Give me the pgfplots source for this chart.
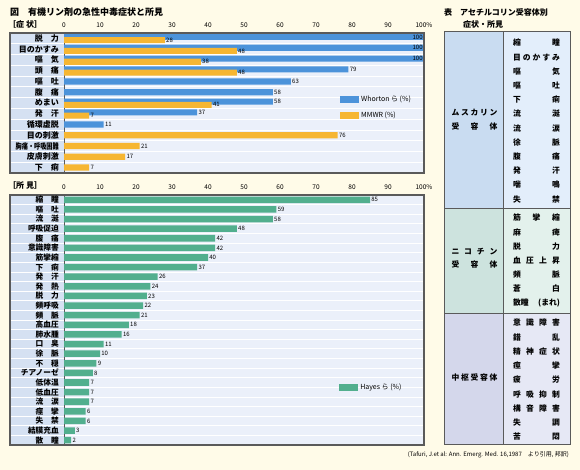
\documentclass[border=0pt]{standalone}
\usepackage{fontspec}
\usepackage{graphicx}
\usepackage{pgfplots}
\pgfplotsset{compat=1.18}
\setmainfont{Noto Sans CJK JP}
\definecolor{bgc}{HTML}{FFFBE8}
\definecolor{plotbg}{HTML}{EBF0FA}
\definecolor{labbg}{HTML}{D5E1F2}
\definecolor{frame}{HTML}{5A5A5A}
\definecolor{cblue}{HTML}{4C93DA}
\definecolor{corange}{HTML}{F6B632}
\definecolor{cgreen}{HTML}{52AF8E}
\definecolor{mL}{HTML}{C9DCF1}\definecolor{mR}{HTML}{E3EEFB}
\definecolor{nL}{HTML}{CDE3DE}\definecolor{nR}{HTML}{E3F1EC}
\definecolor{cL}{HTML}{D4D7EB}\definecolor{cR}{HTML}{E6E8F5}
\pgfplotsset{
 panel/.style={scale only axis, width=414pt, xmin=-15, xmax=100, y dir=reverse,
   axis on top, clip=false,
   axis line style={draw=frame, line width=1.1pt},
   xtick={0,10,...,100}, xticklabels={0,10,20,30,40,50,60,70,80,90,100\%},
   xticklabel pos=upper, xticklabel style={font=\fontsize{6.5}{7}\selectfont, yshift=2pt},
   major tick length=0pt, minor tick length=0pt,
   yticklabel style={font=\bfseries\fontsize{8}{8}\selectfont, anchor=east, inner sep=0pt, xshift=49pt},
   /pgf/number format/assume math mode=true,
   xbar, bar shift=0pt, point meta=x,
   nodes near coords, nodes near coords style={font=\fontsize{6}{6}\selectfont, anchor=west, inner sep=1.2pt, text=black},
   legend image code/.code={\fill[##1] (0pt,-3.5pt) rectangle (19pt,3.5pt);},
   legend style={draw=none, fill=none, font=\fontsize{7}{8}\selectfont, cells={anchor=west}, inner sep=0pt, row sep=5pt},
 },
}
\begin{document}
\begin{tikzpicture}
\fill[bgc] (0pt,0pt) rectangle (580pt,470pt);
% titles
\node[anchor=west, font=\bfseries\fontsize{9}{9}\selectfont, inner sep=0pt] at (10pt,458pt) {図　有機リン剤の急性中毒症状と所見};
\node[anchor=west, font=\bfseries\fontsize{8}{8}\selectfont, inner sep=0pt] at (8pt,446pt) {［症 状］};
\node[anchor=west, font=\bfseries\fontsize{8}{8}\selectfont, inner sep=0pt] at (8pt,285pt) {［所 見］};

% ---------- top panel ----------
\begin{axis}[panel, at={(10pt,297pt)}, anchor=south west, height=140pt,
  ymin=0.5, ymax=13.5,
  ytick={1,...,13},
  yticklabels={脱　力,目のかすみ,嘔　気,頭　痛,嘔　吐,腹　痛,めまい,発　汗,循環虚脱,目の刺激,\scalebox{0.77}[1]{胸痛・呼吸困難},皮膚刺激,下　痢},
  legend style={at={(axis description cs:0.797,0.57)}, anchor=north west},
]
\fill[plotbg] (axis cs:0,0.5) rectangle (axis cs:100,13.5);
\fill[labbg] (axis cs:-15,0.5) rectangle (axis cs:0,13.5);
\pgfplotsinvokeforeach{1,...,12}{\draw[white, line width=0.7pt] (axis cs:-15,#1.5) -- (axis cs:100,#1.5);}
\draw[frame, line width=0.9pt] (axis cs:0,0.5) -- (axis cs:0,13.5);
\addplot[fill=cblue, draw=none, bar width=0.56, nodes near coords style={anchor=east}]
  coordinates {(100,0.87) (100,1.87) (100,2.87)};
\addlegendentry{Whorton ら (\%)}
\addplot[forget plot, fill=cblue, draw=none, bar width=0.56]
  coordinates {(79,3.87) (58,6.87) (37,7.87)};
\addplot[forget plot, fill=cblue, draw=none, bar width=0.58]
  coordinates {(63,5) (58,6) (11,9)};
\addplot[fill=corange, draw=none, bar width=0.56]
  coordinates {(28,1.17) (48,2.17) (38,3.17) (48,4.17) (41,7.17) (7,8.17)};
\addlegendentry{MMWR (\%)}
\addplot[forget plot, fill=corange, draw=none, bar width=0.58]
  coordinates {(76,10) (21,11) (17,12) (7,13)};
\end{axis}

% ---------- bottom panel ----------
\begin{axis}[panel, at={(10pt,25pt)}, anchor=south west, height=250pt,
  ymin=0.5, ymax=26.5,
  ytick={1,...,26},
  yticklabel style={font=\bfseries\fontsize{7.7}{8}\selectfont},
  yticklabels={縮　瞳,嘔　吐,流　涎,呼吸促迫,腹　痛,意識障害,筋攣縮,下　痢,発　汗,発　熱,脱　力,頻呼吸,頻　脈,高血圧,肺水腫,口　臭,徐　脈,不　穏,チアノーゼ,低体温,低血圧,流　涙,痙　攣,失　禁,結膜充血,散　瞳},
  legend style={at={(axis description cs:0.795,0.232)}, anchor=west},
]
\fill[plotbg] (axis cs:0,0.5) rectangle (axis cs:100,26.5);
\fill[labbg] (axis cs:-15,0.5) rectangle (axis cs:0,26.5);
\pgfplotsinvokeforeach{1,...,25}{\draw[white, line width=0.7pt] (axis cs:-15,#1.5) -- (axis cs:100,#1.5);}
\draw[frame, line width=0.9pt] (axis cs:0,0.5) -- (axis cs:0,26.5);
\addplot[fill=cgreen, draw=none, bar width=0.68]
  coordinates {(85,1) (59,2) (58,3) (48,4) (42,5) (42,6) (40,7) (37,8) (26,9) (24,10)
   (23,11) (22,12) (21,13) (18,14) (16,15) (11,16) (10,17) (9,18) (8,19) (7,20)
   (7,21) (7,22) (6,23) (6,24) (3,25) (2,26)};
\addlegendentry{Hayes ら (\%)}
\end{axis}

% ---------- right table ----------
\node[anchor=west, font=\bfseries\fontsize{8}{8}\selectfont, inner sep=0pt] at (444pt,458pt) {表　アセチルコリン受容体別};
\node[anchor=west, font=\bfseries\fontsize{8}{8}\selectfont, inner sep=0pt] at (463pt,446pt) {症状・所見};
\fill[mL] (444pt,262pt) rectangle (503pt,438pt);
\fill[mR] (503pt,262pt) rectangle (570pt,438pt);
\fill[nL] (444pt,157pt) rectangle (503pt,262pt);
\fill[nR] (503pt,157pt) rectangle (570pt,262pt);
\fill[cL] (444pt,25pt) rectangle (503pt,157pt);
\fill[cR] (503pt,25pt) rectangle (570pt,157pt);
\draw[frame, line width=1pt] (444pt,25pt) rectangle (570pt,438pt);
\draw[frame, line width=0.8pt] (503pt,25pt) -- (503pt,438pt);
\draw[frame, line width=0.8pt] (444pt,262pt) -- (570pt,262pt);
\draw[frame, line width=0.8pt] (444pt,157pt) -- (570pt,157pt);
\begin{scope}[every node/.style={font=\bfseries\fontsize{7.8}{8}\selectfont, inner sep=0pt}]
\node at (474.5pt,357pt) {\makebox[46pt]{ム\hfill ス\hfill カ\hfill リ\hfill ン}};
\node at (474.5pt,343pt) {\makebox[46pt]{受\hfill 容\hfill 体}};
\node at (474.5pt,218pt) {\makebox[46pt]{ニ\hfill コ\hfill チ\hfill ン}};
\node at (474.5pt,205pt) {\makebox[46pt]{受\hfill 容\hfill 体}};
\node at (474.5pt,92pt) {\makebox[46pt]{中\hfill 枢\hfill 受\hfill 容\hfill 体}};
\foreach \txt [count=\k] in {縮\hfill 瞳, 目\hfill の\hfill か\hfill す\hfill み, 嘔\hfill 気, 嘔\hfill 吐, 下\hfill 痢, 流\hfill 涎, 流\hfill 涙, 徐\hfill 脈, 腹\hfill 痛, 発\hfill 汗, 喘\hfill 鳴, 失\hfill 禁}
  \node at (536.5pt,{(427-14.2*(\k-1))*1pt}) {\makebox[47pt]{\txt}};
\foreach \txt [count=\k] in {筋\hfill 攣\hfill 縮, 麻\hfill 痺, 脱\hfill 力, 血\hfill 圧\hfill 上\hfill 昇, 頻\hfill 脈, 蒼\hfill 白, 散瞳\hfill (まれ)}
  \node at (536.5pt,{(252-14.2*(\k-1))*1pt}) {\makebox[47pt]{\txt}};
\foreach \txt [count=\k] in {意\hfill 識\hfill 障\hfill 害, 錯\hfill 乱, 精\hfill 神\hfill 症\hfill 状, 痙\hfill 攣, 疲\hfill 労, 呼\hfill 吸\hfill 抑\hfill 制, 構\hfill 音\hfill 障\hfill 害, 失\hfill 調, 苦\hfill 悶}
  \node at (536.5pt,{(147-14.25*(\k-1))*1pt}) {\makebox[47pt]{\txt}};
\end{scope}
\node[anchor=east, font=\fontsize{6}{7}\selectfont, inner sep=0pt] at (569pt,15pt) {(Tafuri, J.et al: Ann. Emerg. Med. 16,1987　より引用, 邦訳)};
\end{tikzpicture}
\end{document}
